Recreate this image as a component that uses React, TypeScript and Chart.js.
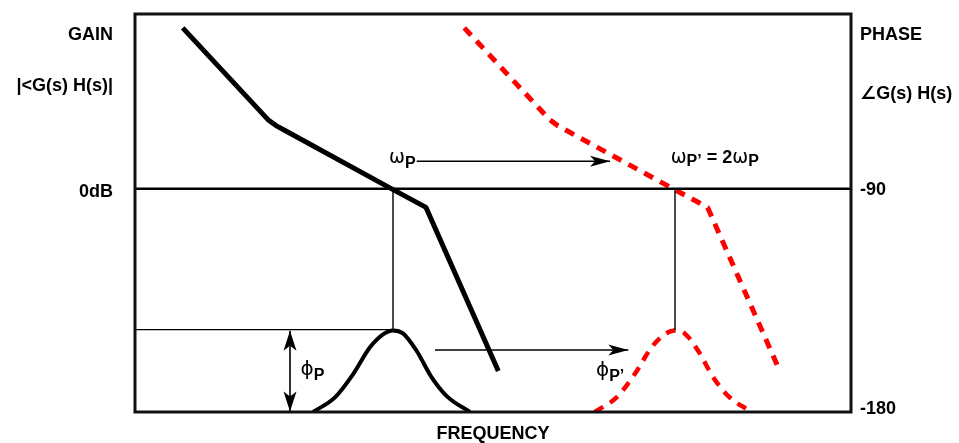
import { useEffect, useRef } from 'react';
import { Chart, registerables } from 'chart.js';

Chart.register(...registerables);

// ---- scale ranges (x: relative frequency units, y: phase in degrees) ----
const X_MIN = 0;
const X_MAX = 716;
const Y_MIN = -180;
const Y_MAX = -19.5;

// ---- gain (black) asymptote ----
const gainX = [47.7, 133, 141, 150, 256.7, 291, 363.3];
const gainY = [-25.1, -62.1, -64.5, -66.5, -90, -97.5, -163.5];

// ---- phase (red dashed) ----
const phaseX = [329.3, 414.6, 422.6, 431.6, 538.3, 572.6, 644.9];
const phaseY = [-25.1, -62.1, -64.5, -66.5, -90, -97.5, -163.5];

// ---- phase bump at wP (black) ----
const bumpX = [178, 200, 218, 235, 248, 258, 268, 282, 296, 312, 335];
const bumpY = [-180, -174.1, -164.8, -153.9, -148.7, -147.1, -148.3, -155.6, -165.6, -173.7, -180];

// ---- shifted phase bump at wP' (red dashed) ----
const bump2X = [459.6, 481.6, 499.6, 516.6, 529.6, 539.6, 549.6, 563.6, 577.6, 593.6, 616.6];
const bump2Y = [-180, -174.1, -164.8, -153.9, -148.7, -147.1, -148.3, -155.6, -165.6, -173.7, -180];

// ---- reference lines ----
const zeroDbX = [0, 716];
const zeroDbY = [-90, -90];
const dropX1 = [258, 258];
const dropY1 = [-90, -146.8];
const dropX2 = [540, 540];
const dropY2 = [-90, -146.8];
const peakLineX = [0, 258];
const peakLineY = [-146.8, -146.8];

// ---- arrows ----
const arrowWX = [281.7, 475];
const arrowWY = [-78.9, -78.9];
const arrowPhiX = [300, 493.3];
const arrowPhiY = [-155.0, -155.0];
const arrowVX = [155, 155];
const arrowVY = [-147.2, -179.8];

// ---- tick labels ----
const leftTickValues = [-91.2, -48.4, -28.0];
const leftTickLabels = ['0dB', '|<G(s) H(s)|', 'GAIN'];
const rightTickValues = [-179.0, -90.3, -51.8, -27.8];
const rightTickLabels = ['-180', '-90', '\u2220G(s) H(s)', 'PHASE'];
const xTitle = 'FREQUENCY';

const SANS = '"Liberation Sans", Arial, "DejaVu Sans", sans-serif';
const GREEK = '"DejaVu Sans", sans-serif';

type Part = { text: string; font: string; dy: number };
type Note = { x: number; y: number; parts: Part[] };

const notes: Note[] = [
  {
    x: 254, y: -79.5,
    parts: [
      { text: '\u03C9', font: `19px ${GREEK}`, dy: 0 },
      { text: 'P', font: `bold 16px ${SANS}`, dy: 5 },
    ],
  },
  {
    x: 535.7, y: -79.5,
    parts: [
      { text: '\u03C9', font: `19px ${GREEK}`, dy: 0 },
      { text: 'P\u2019', font: `bold 16px ${SANS}`, dy: 3 },
      { text: ' = 2', font: `bold 18px ${SANS}`, dy: 0 },
      { text: '\u03C9', font: `19px ${GREEK}`, dy: 0 },
      { text: 'P', font: `bold 16px ${SANS}`, dy: 3 },
    ],
  },
  {
    x: 165.5, y: -165.2,
    parts: [
      { text: '\u03D5', font: `20px ${GREEK}`, dy: 0 },
      { text: 'P', font: `bold 16px ${SANS}`, dy: 5 },
    ],
  },
  {
    x: 461, y: -165.4,
    parts: [
      { text: '\u03D5', font: `20px ${GREEK}`, dy: 0 },
      { text: 'P\u2019', font: `bold 16px ${SANS}`, dy: 5 },
    ],
  },
];

const pts = (xs: number[], ys: number[]) => xs.map((x, i) => ({ x, y: ys[i] }));

function drawHead(ctx: CanvasRenderingContext2D, tx: number, ty: number, fx: number, fy: number, L: number, W: number) {
  const dx = tx - fx;
  const dy = ty - fy;
  const len = Math.hypot(dx, dy) || 1;
  const ux = dx / len;
  const uy = dy / len;
  const nx = -uy;
  const ny = ux;
  ctx.beginPath();
  ctx.moveTo(tx, ty);
  ctx.lineTo(tx - ux * L + nx * W, ty - uy * L + ny * W);
  ctx.lineTo(tx - ux * (L - 5), ty - uy * (L - 5));
  ctx.lineTo(tx - ux * L - nx * W, ty - uy * L - ny * W);
  ctx.closePath();
  ctx.fill();
}

const overlayPlugin = {
  id: 'overlay',
  afterDatasetsDraw(chart: any) {
    const { ctx, chartArea, scales } = chart;
    ctx.save();
    // arrowheads
    ctx.fillStyle = '#000';
    chart.data.datasets.forEach((ds: any, i: number) => {
      const meta = chart.getDatasetMeta(i);
      const d = meta.data;
      if (!d || d.length < 2) return;
      if (ds.arrowEnd) {
        const a = d[d.length - 1];
        const b = d[d.length - 2];
        drawHead(ctx, a.x, a.y, b.x, b.y, ds.headLen, ds.headW);
      }
      if (ds.arrowStart) {
        const a = d[0];
        const b = d[1];
        drawHead(ctx, a.x, a.y, b.x, b.y, ds.headLen, ds.headW);
      }
    });
    // frame
    ctx.strokeStyle = '#111';
    ctx.lineWidth = 3;
    ctx.strokeRect(chartArea.left, chartArea.top, chartArea.right - chartArea.left, chartArea.bottom - chartArea.top);
    // annotations
    ctx.fillStyle = '#000';
    ctx.textBaseline = 'alphabetic';
    ctx.textAlign = 'left';
    notes.forEach((n) => {
      let x = scales.x.getPixelForValue(n.x);
      const y = scales.y.getPixelForValue(n.y);
      n.parts.forEach((p) => {
        ctx.font = p.font;
        ctx.fillText(p.text, x, y + p.dy);
        x += ctx.measureText(p.text).width;
      });
    });
    ctx.restore();
  },
};

export default function App() {
  const ref = useRef<HTMLCanvasElement | null>(null);

  useEffect(() => {
    if (!ref.current) return;
    const thin = { borderColor: '#000', borderWidth: 1.4, pointRadius: 0, tension: 0 };
    const arrow = { borderColor: '#000', borderWidth: 1.6, pointRadius: 0, tension: 0 };
    const tickFont = { family: SANS, size: 18, weight: 'bold' as const };
    const noPad = (s: any) => { s.paddingTop = 0; s.paddingBottom = 0; s.paddingLeft = 0; s.paddingRight = 0; };

    const chart = new Chart(ref.current, {
      type: 'line',
      data: {
        datasets: [
          { ...thin, data: pts(zeroDbX, zeroDbY), borderWidth: 2.6 },
          { ...thin, data: pts(dropX1, dropY1) },
          { ...thin, data: pts(dropX2, dropY2) },
          { ...thin, data: pts(peakLineX, peakLineY) },
          {
            data: pts(gainX, gainY), borderColor: '#000', borderWidth: 5,
            pointRadius: 0, tension: 0, borderCapStyle: 'butt', borderJoinStyle: 'round',
          },
          {
            data: pts(phaseX, phaseY), borderColor: '#ff0000', borderWidth: 5,
            pointRadius: 0, tension: 0, borderDash: [10, 8], borderCapStyle: 'butt',
          },
          {
            data: pts(bumpX, bumpY), borderColor: '#000', borderWidth: 4,
            pointRadius: 0, cubicInterpolationMode: 'monotone',
          },
          {
            data: pts(bump2X, bump2Y), borderColor: '#ff0000', borderWidth: 4.5,
            pointRadius: 0, cubicInterpolationMode: 'monotone', borderDash: [10, 8],
          },
          { ...arrow, data: pts(arrowWX, arrowWY), arrowEnd: true, headLen: 20, headW: 5.5 } as any,
          { ...arrow, data: pts(arrowPhiX, arrowPhiY), arrowEnd: true, headLen: 20, headW: 5.5 } as any,
          { ...arrow, data: pts(arrowVX, arrowVY), arrowEnd: true, arrowStart: true, headLen: 20, headW: 6.5 } as any,
        ] as any,
      },
      options: {
        responsive: false,
        animation: false,
        events: [],
        layout: { padding: { top: 14, left: 0, right: 0, bottom: 0 } },
        plugins: { legend: { display: false }, tooltip: { enabled: false } },
        scales: {
          x: {
            type: 'linear', min: X_MIN, max: X_MAX,
            grid: { display: false, drawTicks: false },
            border: { display: false },
            ticks: { display: false },
            title: {
              display: true, text: xTitle, color: '#000',
              font: { family: SANS, size: 18, weight: 'bold', lineHeight: 1 },
              padding: 0,
            },
            afterFit: (s: any) => { s.height = 31; noPad(s); },
          },
          y: {
            type: 'linear', position: 'left', min: Y_MIN, max: Y_MAX,
            grid: { display: false, drawTicks: false },
            border: { display: false },
            ticks: {
              autoSkip: false, padding: 22, color: '#000', font: tickFont,
              callback: (_v: any, i: number) => leftTickLabels[i],
            },
            afterBuildTicks: (s: any) => { s.ticks = leftTickValues.map((v) => ({ value: v })); },
            afterFit: (s: any) => { s.width = 135; noPad(s); },
          },
          y2: {
            type: 'linear', position: 'right', min: Y_MIN, max: Y_MAX,
            grid: { display: false, drawTicks: false },
            border: { display: false },
            ticks: {
              autoSkip: false, padding: 9, color: '#000', font: tickFont,
              callback: (_v: any, i: number) => rightTickLabels[i],
            },
            afterBuildTicks: (s: any) => { s.ticks = rightTickValues.map((v) => ({ value: v })); },
            afterFit: (s: any) => { s.width = 108; noPad(s); },
          },
        },
      } as any,
      plugins: [overlayPlugin],
    });
    return () => chart.destroy();
  }, []);

  return (
    <div style={{ position: 'absolute', left: 0, top: 0, width: 959, height: 443, background: '#fff' }}>
      <canvas ref={ref} width={959} height={443} style={{ display: 'block' }} />
    </div>
  );
}
